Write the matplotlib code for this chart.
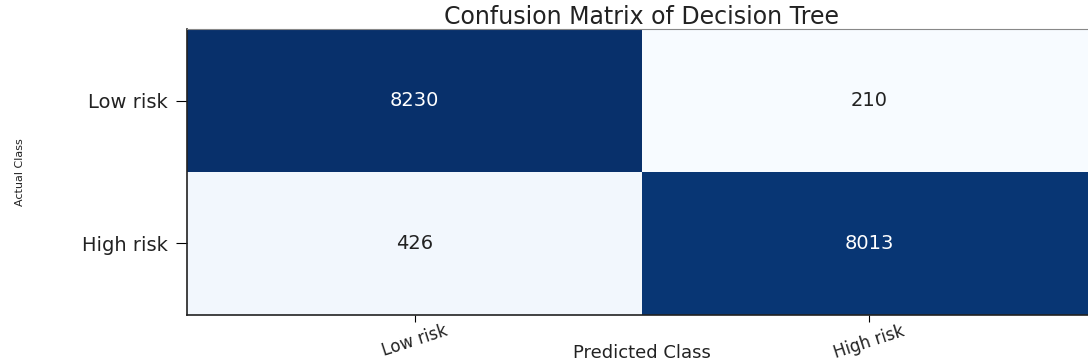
import numpy as np
import matplotlib
matplotlib.use("Agg")
import matplotlib.pyplot as plt

# Confusion matrix counts (rows: actual, columns: predicted)
class_names = ["Low risk", "High risk"]
matrix_values = [[8230, 210],
                 [426, 8013]]
title_text = "Confusion Matrix of Decision Tree"
x_label = "Predicted Class"
y_label = "Actual Class"

cm = np.array(matrix_values)

fig = plt.figure(figsize=(10.88, 3.64), dpi=100)
ax = fig.add_axes([0.172, 0.135, 0.836, 0.785])

ax.imshow(cm, cmap="Blues", aspect="auto", interpolation="nearest",
          vmin=cm.min(), vmax=cm.max())

threshold = (cm.max() + cm.min()) / 2
for i in range(cm.shape[0]):
    for j in range(cm.shape[1]):
        ax.text(j, i, str(cm[i, j]), ha="center", va="center",
                fontsize=14, color="white" if cm[i, j] > threshold else "#222222")

ax.set_xticks(range(len(class_names)))
ax.set_yticks(range(len(class_names)))
ax.set_xticklabels(class_names, rotation=18, ha="center", fontsize=12,
                   color="#222222")
ax.set_yticklabels(class_names, fontsize=14, color="#222222")
ax.tick_params(axis="y", length=8, width=0.8, pad=6)
ax.tick_params(axis="x", length=5, width=0.8, pad=0)

ax.set_title(title_text, fontsize=17, color="#222222", pad=3)
ax.set_xlabel(x_label, fontsize=13, color="#222222")
ax.xaxis.set_label_coords(0.5, -0.135)
ax.xaxis.label.set_va("center")

ax.set_ylabel(y_label, fontsize=8, color="#222222")
ax.yaxis.set_label_coords(-0.178, 0.5)

for side in ("top", "right"):
    ax.spines[side].set_color("#888888")
for side in ("left", "bottom"):
    ax.spines[side].set_color("#222222")
    ax.spines[side].set_linewidth(1.2)

fig.savefig("out.png", dpi=100)
